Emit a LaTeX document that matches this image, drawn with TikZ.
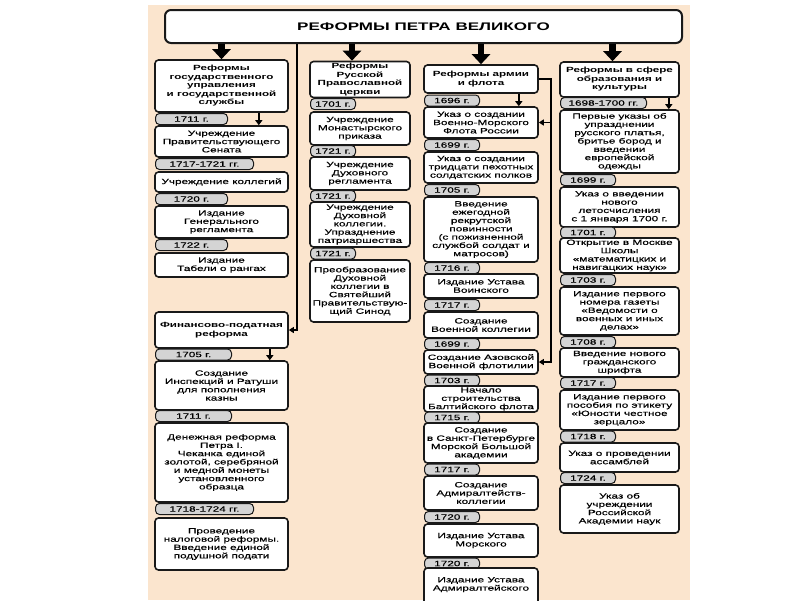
\documentclass[tikz,border=0pt]{standalone}
\usepackage{fontspec}
\setmainfont{Liberation Sans}[FakeStretch=1.55]
\newfontfamily\bodyfont{Liberation Sans}[FakeStretch=1.55, FakeBold=0.35]
\usetikzlibrary{arrows.meta}
\definecolor{peach}{RGB}{251,229,206}
\definecolor{tabgray}{RGB}{212,212,212}
\begin{document}
\begin{tikzpicture}[x=1pt,y=-1pt]
\tikzstyle{box}=[draw=black!90, line width=1.6pt, rounded corners=3.5pt, fill=white, align=center, inner sep=1pt, font=\bodyfont\fontsize{7.6}{8.3}\selectfont]
\tikzstyle{head}=[font=\fontsize{7.5}{8.5}\selectfont\bfseries]
\tikzstyle{datetab}=[draw=black!90, line width=1pt, rounded corners=4pt, fill=tabgray, inner sep=0pt, minimum height=11pt, anchor=west, font=\bodyfont\fontsize{7.6}{8.3}\selectfont]
\tikzstyle{gosbox}=[box, minimum width=133pt]
\tikzstyle{cerbox}=[box, minimum width=100pt]
\tikzstyle{armbox}=[box, minimum width=114pt]
\tikzstyle{obrbox}=[box, minimum width=119pt]
\tikzstyle{titlebox}=[draw=black!90, line width=2pt, rounded corners=6pt, fill=white, minimum width=517pt, minimum height=33pt, font=\fontsize{11}{13}\selectfont\bfseries]
\tikzstyle{bigarrow}=[line width=6.5pt, -{Triangle[width=18pt,length=10pt]}]
\tikzstyle{smallarrow}=[line width=2pt, -{Triangle[width=7pt,length=5pt]}]
\tikzstyle{link}=[line width=1.8pt, -{Triangle[width=6pt,length=5pt]}]
\useasboundingbox (0,0) rectangle (800,600);
\fill[white] (0,0) rectangle (800,600);
\fill[peach] (148,5) rectangle (690,600);
% title
\node[titlebox] (title) at (423.5,26.5) {РЕФОРМЫ ПЕТРА ВЕЛИКОГО};
% gosudarstvennoe upravlenie
\node[gosbox, head, minimum height=52pt] (gos) at (221.5,86) {Реформы\\государственного\\управления\\и государственной\\службы};
\node[datetab, minimum width=72pt] (gosd1) at (155,119) {1711 г.};
\node[gosbox, minimum height=31pt] (gos1) at (221.5,141.5) {Учреждение\\Правительствующего\\Сената};
\node[datetab, minimum width=98pt] (gosd2) at (155,164) {1717-1721 гг.};
\node[gosbox, minimum height=20pt] (gos2) at (221.5,182) {Учреждение коллегий};
\node[datetab, minimum width=72pt] (gosd3) at (155,199) {1720 г.};
\node[gosbox, minimum height=32pt] (gos3) at (221.5,222) {Издание\\Генерального\\регламента};
\node[datetab, minimum width=72pt] (gosd4) at (155,245) {1722 г.};
\node[gosbox, minimum height=24pt] (gos4) at (221.5,265) {Издание\\Табели о рангах};
% finansy
\node[gosbox, head, minimum height=36pt] (fin) at (221.5,330) {Финансово-податная\\реформа};
\node[datetab, minimum width=76pt] (find1) at (155,354.5) {1705 г.};
\node[gosbox, minimum height=49pt] (fin1) at (221.5,385.5) {Создание\\Инспекций и Ратуши\\для пополнения\\казны};
\node[datetab, minimum width=76pt] (find2) at (155,416) {1711 г.};
\node[gosbox, minimum height=79pt] (fin2) at (221.5,462.5) {Денежная реформа\\Петра I.\\Чеканка единой\\золотой, серебряной\\и медной монеты\\установленного\\образца};
\node[datetab, minimum width=98pt] (find3) at (155,509) {1718-1724 гг.};
\node[gosbox, minimum height=52pt] (fin3) at (221.5,544) {Проведение\\налоговой реформы.\\Введение единой\\подушной подати};
% cerkov
\node[cerbox, head, minimum height=36pt] (cer) at (360,79.5) {Реформы\\Русской\\Православной\\церкви};
\node[datetab, minimum width=45pt] (cerd1) at (310,104) {1701 г.};
\node[cerbox, minimum height=33pt] (cer1) at (360,128.5) {Учреждение\\Монастырского\\приказа};
\node[datetab, minimum width=45pt] (cerd2) at (310,151) {1721 г.};
\node[cerbox, minimum height=33pt] (cer2) at (360,173.5) {Учреждение\\Духовного\\регламента};
\node[datetab, minimum width=45pt] (cerd3) at (310,196) {1721 г.};
\node[cerbox, minimum height=45pt] (cer3) at (360,224.5) {Учреждение\\Духовной\\коллегии.\\Упразднение\\патриаршества};
\node[datetab, minimum width=45pt] (cerd4) at (310,253.5) {1721 г.};
\node[cerbox, minimum height=62pt] (cer4) at (360,291) {Преобразование\\Духовной\\коллегии в\\Святейший\\Правительствую-\\щий Синод};
% armiya i flot
\node[armbox, head, minimum height=28pt] (arm) at (481,79) {Реформы армии\\и флота};
\node[datetab, minimum width=55pt] (armd1) at (424,100.5) {1696 г.};
\node[armbox, minimum height=31pt] (arm1) at (481,122.5) {Указ о создании\\Военно-Морского\\Флота России};
\node[datetab, minimum width=55pt] (armd2) at (424,145) {1699 г.};
\node[armbox, minimum height=31pt] (arm2) at (481,167.5) {Указ о создании\\тридцати пехотных\\солдатских полков};
\node[datetab, minimum width=55pt] (armd3) at (424,190) {1705 г.};
\node[armbox, minimum height=65pt] (arm3) at (481,229.5) {Введение\\ежегодной\\рекрутской\\повинности\\(с пожизненной\\службой солдат и\\матросов)};
\node[datetab, minimum width=55pt] (armd4) at (424,268) {1716 г.};
\node[armbox, minimum height=24pt] (arm4) at (481,286) {Издание Устава\\Воинского};
\node[datetab, minimum width=55pt] (armd5) at (424,305) {1717 г.};
\node[armbox, minimum height=26pt] (arm5) at (481,325) {Создание\\Военной коллегии};
\node[datetab, minimum width=55pt] (armd6) at (424,344) {1699 г.};
\node[armbox, minimum height=24pt] (arm6) at (481,362) {Создание Азовской\\Военной флотилии};
\node[datetab, minimum width=55pt] (armd7) at (424,380.5) {1703 г.};
\node[armbox, minimum height=26pt] (arm7) at (481,399) {Начало\\строительства\\Балтийского флота};
\node[datetab, minimum width=55pt] (armd8) at (424,417.5) {1715 г.};
\node[armbox, minimum height=40pt] (arm8) at (481,443) {Создание\\в Санкт-Петербурге\\Морской Большой\\академии};
\node[datetab, minimum width=55pt] (armd9) at (424,469.5) {1717 г.};
\node[armbox, minimum height=34pt] (arm9) at (481,493) {Создание\\Адмиралтейств-\\коллегии};
\node[datetab, minimum width=55pt] (armd10) at (424,517) {1720 г.};
\node[armbox, minimum height=33pt] (arm10) at (481,540.5) {Издание Устава\\Морского};
\node[datetab, minimum width=55pt] (armd11) at (424,563.5) {1720 г.};
\node[armbox, minimum height=40pt] (arm11) at (481,588) {Издание Устава\\Адмиралтейского\\ \mbox{}};
% obrazovanie i kultura
\node[obrbox, head, minimum height=35pt] (obr) at (619.5,79.5) {Реформы в сфере\\образования и\\культуры};
\node[datetab, minimum width=86pt] (obrd1) at (560,103) {1698-1700 гг.};
\node[obrbox, minimum height=63pt] (obr1) at (619.5,141.5) {Первые указы об\\упразднении\\русского платья,\\бритье бород и\\введении\\европейской\\одежды};
\node[datetab, minimum width=55pt] (obrd2) at (560,180) {1699 г.};
\node[obrbox, minimum height=40pt] (obr2) at (619.5,207) {Указ о введении\\нового\\летосчисления\\с 1 января 1700 г.};
\node[datetab, minimum width=55pt] (obrd3) at (560,232.5) {1701 г.};
\node[obrbox, minimum height=35pt] (obr3) at (619.5,255.5) {Открытие в Москве\\Школы\\«математицких и\\навигацких наук»};
\node[datetab, minimum width=55pt] (obrd4) at (560,280) {1703 г.};
\node[obrbox, minimum height=48pt] (obr4) at (619.5,311) {Издание первого\\номера газеты\\«Ведомости о\\военных и иных\\делах»};
\node[datetab, minimum width=55pt] (obrd5) at (560,342) {1708 г.};
\node[obrbox, minimum height=29pt] (obr5) at (619.5,362.5) {Введение нового\\гражданского\\шрифта};
\node[datetab, minimum width=55pt] (obrd6) at (560,383) {1717 г.};
\node[obrbox, minimum height=40pt] (obr6) at (619.5,410) {Издание первого\\пособия по этикету\\«Юности честное\\зерцало»};
\node[datetab, minimum width=55pt] (obrd7) at (560,436.5) {1718 г.};
\node[obrbox, minimum height=29pt] (obr7) at (619.5,457.5) {Указ о проведении\\ассамблей};
\node[datetab, minimum width=55pt] (obrd8) at (560,478) {1724 г.};
\node[obrbox, minimum height=48pt] (obr8) at (619.5,509) {Указ об\\учреждении\\Российской\\Академии наук};
% arrows from title
\draw[bigarrow] (title.south -| gos.north) -- (gos.north);
\draw[bigarrow] ([xshift=-8pt]cer.north |- title.south) -- ([xshift=-8pt]cer.north);
\draw[bigarrow] (title.south -| arm.north) -- (arm.north);
\draw[bigarrow] ([xshift=-7pt]obr.north |- title.south) -- ([xshift=-7pt]obr.north);
% small arrows under headers
\draw[smallarrow] ([xshift=-30pt]gos.south east) -- ([xshift=-30pt]gos1.north east);
\draw[smallarrow] ([xshift=-19pt]fin.south east) -- ([xshift=-19pt]fin1.north east);
\draw[smallarrow] ([xshift=-20pt]arm.south east) -- ([xshift=-20pt]arm1.north east);
\draw[smallarrow] ([xshift=-11pt]obr.south east) -- ([xshift=-11pt]obr1.north east);
% connectors
\coordinate (trunk) at (297,0);
\draw[link] (title.south -| trunk) |- (fin.east);
\coordinate (armbus) at (551,0);
\draw[link] (arm.east) -- (arm.east -| armbus) |- (arm6.east);
\draw[link] (arm.east -| armbus) |- (arm1.east);
\end{tikzpicture}
\end{document}
